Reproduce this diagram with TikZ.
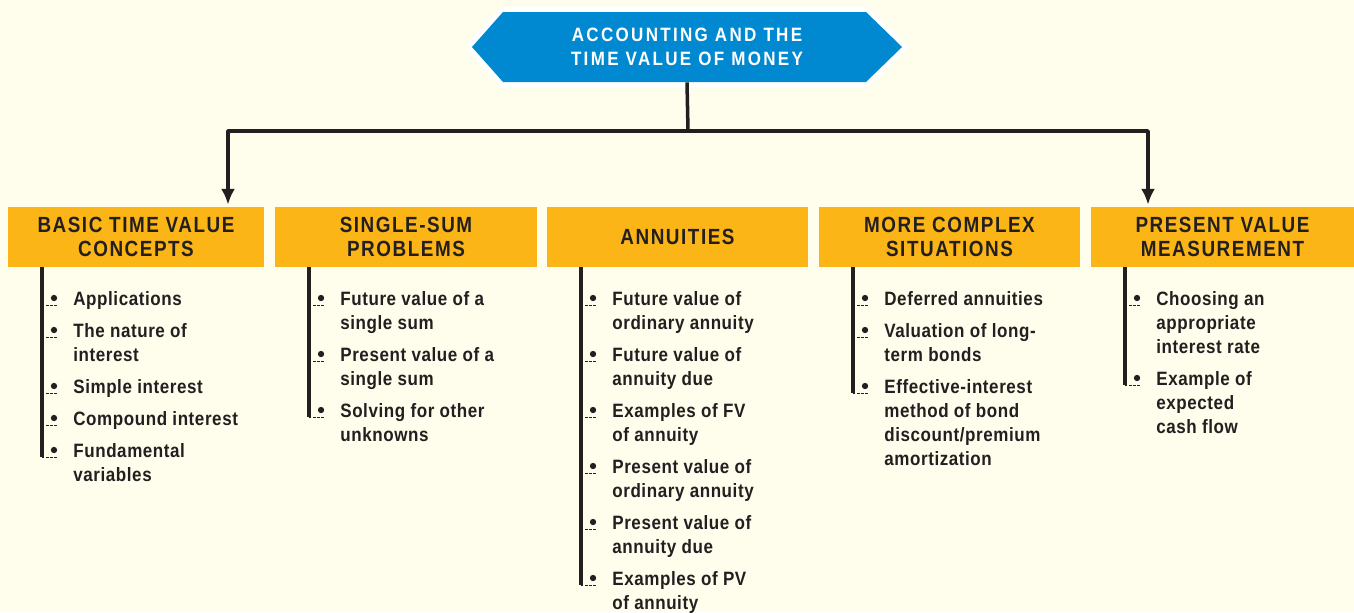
\documentclass[tikz,border=0pt]{standalone}
\usepackage{fontspec}
\setmainfont{Liberation Sans}[FakeStretch=0.88]
\newfontfamily\titlefont{Liberation Sans}[FakeStretch=0.88, LetterSpace=12]
\newfontfamily\headfont{Liberation Sans}[FakeStretch=0.86, LetterSpace=7]
\newfontfamily\itemfont{Liberation Sans}[FakeStretch=0.88, LetterSpace=3]
\usepackage{xcolor}
\usetikzlibrary{arrows.meta}

\definecolor{paper}{HTML}{FFFDEC}
\definecolor{skyblue}{HTML}{0089D0}
\definecolor{marigold}{HTML}{FBB516}
\definecolor{ink}{HTML}{231F20}

\begin{document}
\begin{tikzpicture}[x=0.02cm, y=-0.02cm, line join=round,
    link/.style={ink, line width=2pt},
    tip/.style={-{Latex[length=9pt, width=8pt]}},
    header/.style={fill=marigold, inner sep=0pt, minimum height=1.2cm, align=center,
        text=ink, font=\fontsize{12.5}{13.6}\headfont\bfseries},
    bar/.style={ink, line width=1.9pt},
    tick/.style={ink, line width=0.5pt, dash pattern=on 1.4pt off 0.9pt},
    topic/.style={anchor=north west, align=left, inner sep=0pt, text=ink,
        font=\fontsize{11}{13.6}\itemfont\bfseries}]

    % page 1354 x 612 px, one unit = one pixel, y grows downwards
    \useasboundingbox[fill=paper] (0,0) rectangle (1354,612);

    % Title hexagon, left tip (472,47), right tip (902,47)
    \path[fill=skyblue, preaction={draw=white, line width=6pt}]
        (472,47) -- (503,12) -- (866,12) -- (902,47) -- (866,82) -- (503,82) -- cycle;
    \node[inner sep=0pt, minimum height=1.4cm, align=center, text=white,
        font=\fontsize{11}{13.6}\titlefont\bfseries] (title) at (687,47)
        {ACCOUNTING AND THE\\TIME VALUE OF MONEY};

    % Five topic headers
    \node[header, minimum width=5.12cm] (basic)   at (136,237)   {BASIC TIME VALUE\\CONCEPTS};
    \node[header, minimum width=5.24cm] (single)  at (406,237)   {SINGLE-SUM\\PROBLEMS};
    \node[header, minimum width=5.22cm] (annuity) at (677.5,237) {ANNUITIES};
    \node[header, minimum width=5.22cm] (complex) at (949.5,237) {MORE COMPLEX\\SITUATIONS};
    \node[header, minimum width=5.26cm] (measure) at (1222.5,237) {PRESENT VALUE\\MEASUREMENT};

    % Connectors from the title to the outer headers
    \coordinate (hub)   at (688,131);
    \coordinate (dropL) at (228,131);
    \coordinate (dropR) at (1148,131);
    \draw[link] (title.south) -- (hub);
    \draw[link, tip] (hub) -| ([yshift=0.04cm]basic.north -| dropL);
    \draw[link, tip] (hub) -| ([yshift=0.04cm]measure.north -| dropR);

    % Basic time value concepts (item text top = baseline - 14)
    \draw[bar] (42,267) -- (42,457);
    \node[topic] (b1) at (73,291) {Applications};
    \node[topic] (b2) at (73,323) {The nature of\\interest};
    \node[topic] (b3) at (73,379) {Simple interest};
    \node[topic] (b4) at (73,411) {Compound interest};
    \node[topic] (b5) at (73,443) {Fundamental\\variables};
    \foreach \yy in {305,337,393,425,457} {
        \draw[tick] (42,\yy) -- (57,\yy);
        \fill[ink] (54,\yy-7) circle (1.8pt);
    }

    % Single-sum problems
    \draw[bar] (309,267) -- (309,417);
    \node[topic] (s1) at (340,291) {Future value of a\\single sum};
    \node[topic] (s2) at (340,347) {Present value of a\\single sum};
    \node[topic] (s3) at (340,403) {Solving for other\\unknowns};
    \foreach \yy in {305,361,417} {
        \draw[tick] (309,\yy) -- (324,\yy);
        \fill[ink] (321,\yy-7) circle (1.8pt);
    }

    % Annuities
    \draw[bar] (581,267) -- (581,585);
    \node[topic] (a1) at (612,291) {Future value of\\ordinary annuity};
    \node[topic] (a2) at (612,347) {Future value of\\annuity due};
    \node[topic] (a3) at (612,403) {Examples of FV\\of annuity};
    \node[topic] (a4) at (612,459) {Present value of\\ordinary annuity};
    \node[topic] (a5) at (612,515) {Present value of\\annuity due};
    \node[topic] (a6) at (612,571) {Examples of PV\\of annuity};
    \foreach \yy in {305,361,417,473,529,585} {
        \draw[tick] (581,\yy) -- (596,\yy);
        \fill[ink] (593,\yy-7) circle (1.8pt);
    }

    % More complex situations
    \draw[bar] (853,267) -- (853,393);
    \node[topic] (c1) at (884,291) {Deferred annuities};
    \node[topic] (c2) at (884,323) {Valuation of long-\\term bonds};
    \node[topic] (c3) at (884,379) {Effective-interest\\method of bond\\discount/premium\\amortization};
    \foreach \yy in {305,337,393} {
        \draw[tick] (853,\yy) -- (868,\yy);
        \fill[ink] (865,\yy-7) circle (1.8pt);
    }

    % Present value measurement
    \draw[bar] (1125,267) -- (1125,385);
    \node[topic] (m1) at (1156,291) {Choosing an\\appropriate\\interest rate};
    \node[topic] (m2) at (1156,371) {Example of\\expected\\cash flow};
    \foreach \yy in {305,385} {
        \draw[tick] (1125,\yy) -- (1140,\yy);
        \fill[ink] (1137,\yy-7) circle (1.8pt);
    }

\end{tikzpicture}
\end{document}
